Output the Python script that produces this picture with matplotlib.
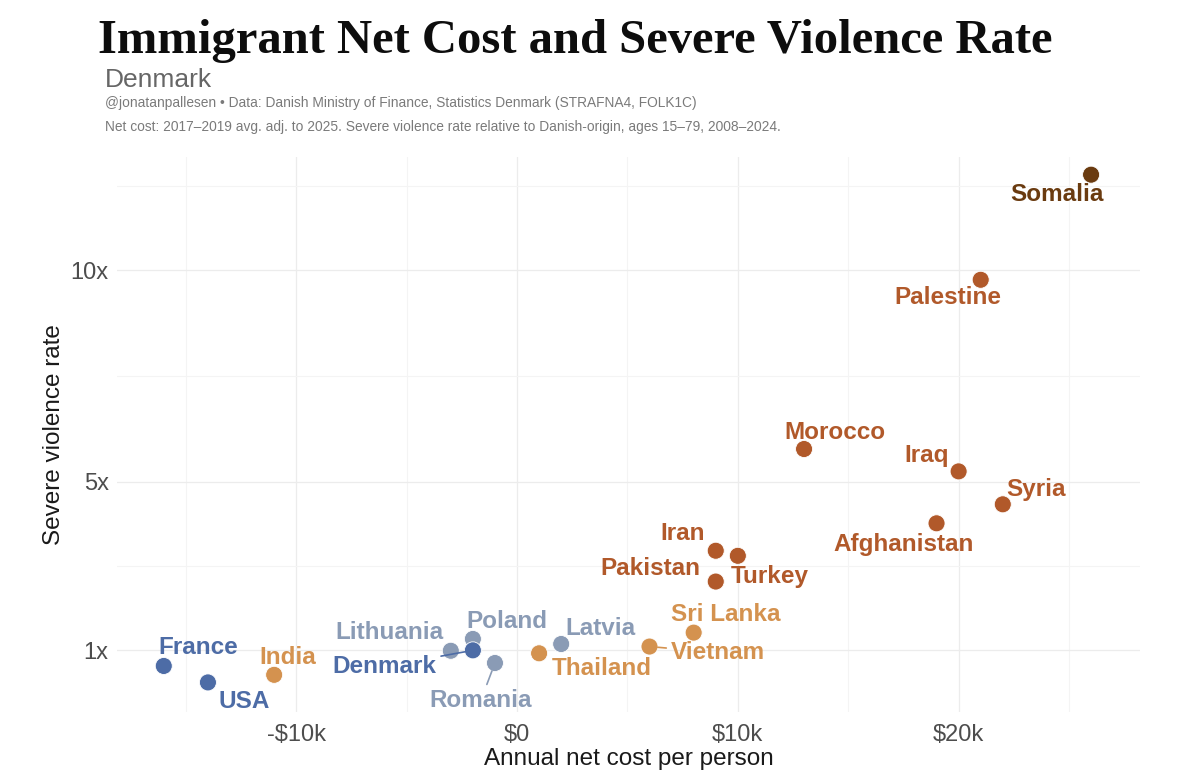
import matplotlib
matplotlib.use("Agg")
import matplotlib.pyplot as plt
from matplotlib.ticker import FuncFormatter, FixedLocator

# data
countries = ["Somalia", "Palestine", "Morocco", "Iraq", "Syria", "Afghanistan",
             "Iran", "Turkey", "Pakistan", "Sri Lanka", "Vietnam", "Latvia",
             "Thailand", "Poland", "Denmark", "Romania", "Lithuania", "France",
             "USA", "India"]
net_cost = [26.0, 21.0, 13.0, 20.0, 22.0, 19.0,
            9.0, 10.0, 9.0, 8.0, 6.0, 2.0,
            1.0, -2.0, -2.0, -1.0, -3.0, -16.0,
            -14.0, -11.0]  # $k per person per year
violence = [12.27, 9.78, 5.77, 5.24, 4.46, 4.01,
            3.36, 3.24, 2.63, 1.42, 1.09, 1.15,
            0.93, 1.27, 1.0, 0.70, 0.99, 0.63,
            0.24, 0.42]
group = ["somalia", "mena", "mena", "mena", "mena", "mena",
         "mena", "mena", "mena", "asia", "asia", "east",
         "asia", "east", "west", "east", "east", "west",
         "west", "asia"]

colors = {"west": "#4d6ca6", "east": "#8a9bb5", "asia": "#d4924f",
          "mena": "#b1592a", "somalia": "#6a3b10"}

# label offsets in pixels (dx, dy), like ggrepel placed them
offsets = {"Somalia": (-34, -20), "Palestine": (-33, -18), "Morocco": (31, 17),
           "Iraq": (-32, 16), "Syria": (33, 15), "Afghanistan": (-33, -21),
           "Iran": (-33, 17), "Turkey": (32, -21), "Pakistan": (-65, 13),
           "Sri Lanka": (32, 18), "Vietnam": (68, -6), "Latvia": (39, 16),
           "Thailand": (63, -15), "Poland": (34, 17), "Denmark": (-88, -16),
           "Romania": (-14, -37), "Lithuania": (-61, 18), "France": (34, 18),
           "USA": (36, -19), "India": (14, 17)}
with_segment = ["Denmark", "Romania", "Vietnam"]

plt.rcParams['font.family'] = ['Liberation Sans', 'DejaVu Sans']

fig = plt.figure(figsize=(11.79, 7.77), dpi=100)
ax = fig.add_axes([0.0992, 0.0837, 0.868, 0.7143])

ax.set_xlim(-18.12, 28.23)
ax.set_ylim(-0.46, 12.69)

for spine in ax.spines.values():
    spine.set_visible(False)

ax.xaxis.set_major_locator(FixedLocator([-10, 0, 10, 20]))
ax.xaxis.set_minor_locator(FixedLocator([-15, -5, 5, 15, 25]))
ax.yaxis.set_major_locator(FixedLocator([1, 5, 10]))
ax.yaxis.set_minor_locator(FixedLocator([3, 7.5, 12]))

def fmt_cost(v, pos):
    if v == 0:
        return "$0"
    return f"{'-' if v < 0 else ''}${abs(v):.0f}k"

ax.xaxis.set_major_formatter(FuncFormatter(fmt_cost))
ax.yaxis.set_major_formatter(FuncFormatter(lambda v, p: f"{v:g}x"))

ax.grid(True, which="major", color="#ececec", linewidth=0.9)
ax.grid(True, which="minor", color="#f4f4f4", linewidth=0.8)
ax.set_axisbelow(True)
ax.tick_params(which="both", length=0)
ax.tick_params(axis="both", labelsize=17, labelcolor="#4d4d4d")
ax.tick_params(axis="x", pad=9)
ax.tick_params(axis="y", pad=6)

ax.set_xlabel("Annual net cost per person", fontsize=17.5, color="#1a1a1a", labelpad=1)
ax.set_ylabel("Severe violence rate", fontsize=17.5, color="#1a1a1a", labelpad=4)

pt_colors = [colors[g] for g in group]
ax.scatter(net_cost, violence, s=150, c=pt_colors, edgecolors="white",
           linewidths=0.6, zorder=3)

for name, x, y, g in zip(countries, net_cost, violence, group):
    dx, dy = offsets[name]
    arrow = None
    if name in with_segment:
        arrow = dict(arrowstyle="-", color=colors[g], lw=1.2, shrinkA=1, shrinkB=6)
    ax.annotate(name, (x, y), xytext=(dx, dy), textcoords="offset pixels",
                ha="center", va="center", fontsize=17.5, fontweight="bold",
                color=colors[g], arrowprops=arrow, zorder=4)

fig.text(0.083, 0.932, "Immigrant Net Cost and Severe Violence Rate",
         fontsize=35, fontweight="bold", family=["Liberation Serif", "DejaVu Serif"],
         color="#0d0d0d", va="baseline")
fig.text(0.089, 0.888, "Denmark", fontsize=19, color="#666666", va="baseline")
fig.text(0.089, 0.862, "@jonatanpallesen \u2022 Data: Danish Ministry of Finance, Statistics Denmark (STRAFNA4, FOLK1C)",
         fontsize=9.9, color="#7a7a7a", va="baseline")
fig.text(0.089, 0.831, "Net cost: 2017\u20132019 avg. adj. to 2025. Severe violence rate relative to Danish-origin, ages 15\u201379, 2008\u20132024.",
         fontsize=9.9, color="#7a7a7a", va="baseline")

fig.savefig("out.png", dpi=100, facecolor="white")
